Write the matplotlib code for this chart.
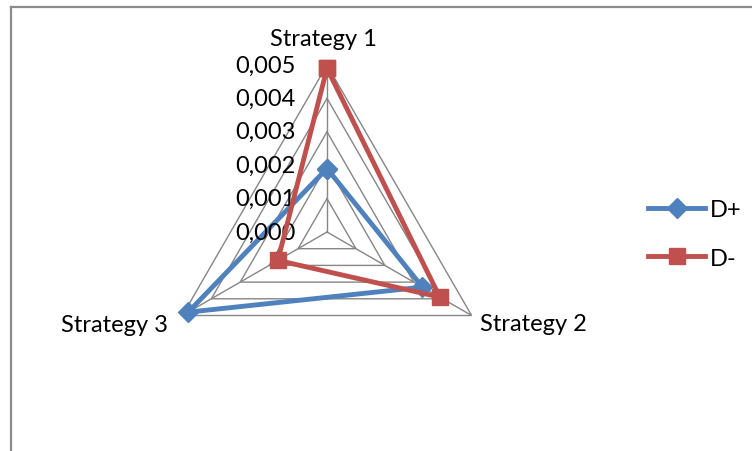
import numpy as np
import matplotlib
matplotlib.use("Agg")
from matplotlib import pyplot as plt
from matplotlib.lines import Line2D

categories = ["Strategy 1", "Strategy 2", "Strategy 3"]
d_plus = [0.0019, 0.0033, 0.0048]
d_minus = [0.0049, 0.0039, 0.0017]
ticks = [0.000, 0.001, 0.002, 0.003, 0.004, 0.005]
tick_labels = ["0,000", "0,001", "0,002", "0,003", "0,004", "0,005"]

blue = "#4F81BD"
red = "#C0504D"
grid_col = "#868686"
fs = 17

plt.rcParams["font.family"] = ["Lato", "DejaVu Sans"]

fig = plt.figure(figsize=(7.52, 4.52), dpi=100)
ax = fig.add_axes([160/752, 52/452, 334/752, 334/452], projection="polar")
ax.set_theta_zero_location("N")
ax.set_theta_direction(-1)
ax.set_ylim(0, ticks[-1])
ax.grid(False)
ax.spines["polar"].set_visible(False)
ax.set_xticks([])
ax.set_yticks([])
ax.patch.set_alpha(0)

theta = np.linspace(0, 2*np.pi, len(categories), endpoint=False)
theta_closed = np.append(theta, theta[0])

# triangular gridlines + spokes
for t in ticks[1:]:
    ax.plot(theta_closed, [t]*len(theta_closed), color=grid_col, lw=1.0, zorder=1)
for th in theta:
    ax.plot([th, th], [0, ticks[-1]], color=grid_col, lw=1.0, zorder=1)

ax.plot(theta_closed, d_plus + d_plus[:1], color=blue, lw=3.5, marker="D",
        markersize=10, zorder=3, clip_on=False)
ax.plot(theta_closed, d_minus + d_minus[:1], color=red, lw=3.5, marker="s",
        markersize=11.5, zorder=4, clip_on=False)

# tick labels along Strategy 1 axis
for t, lab in zip(ticks, tick_labels):
    ax.annotate(lab, (0, t), xytext=(-31, 0), textcoords="offset pixels",
                ha="right", va="center", fontsize=fs, annotation_clip=False)

# category labels
ax.annotate(categories[0], (theta[0], ticks[-1]), xytext=(-4, 20), textcoords="offset pixels",
            ha="center", va="baseline", fontsize=fs, annotation_clip=False)
ax.annotate(categories[1], (theta[1], ticks[-1]), xytext=(8, -15), textcoords="offset pixels",
            ha="left", va="baseline", fontsize=fs, annotation_clip=False)
ax.annotate(categories[2], (theta[2], ticks[-1]), xytext=(-14, -15), textcoords="offset pixels",
            ha="right", va="baseline", fontsize=fs, annotation_clip=False)

handles = [Line2D([], [], color=blue, lw=3.5, marker="D", markersize=10),
           Line2D([], [], color=red, lw=3.5, marker="s", markersize=11.5)]
fig.legend(handles, ["D+", "D-"], loc="center left", bbox_to_anchor=(627/752, 1 - 235/452),
           frameon=False, fontsize=fs, handlelength=2.4, labelspacing=1.15,
           handletextpad=0.2, numpoints=1)

# chart frame (left and top edges visible)
fig.add_artist(Line2D([11/752, 11/752], [0, 1 - 8/452], color="#8c8c8c", lw=1.6))
fig.add_artist(Line2D([11/752, 1], [1 - 8/452, 1 - 8/452], color="#8c8c8c", lw=1.6))

fig.savefig("out.png", dpi=100)
